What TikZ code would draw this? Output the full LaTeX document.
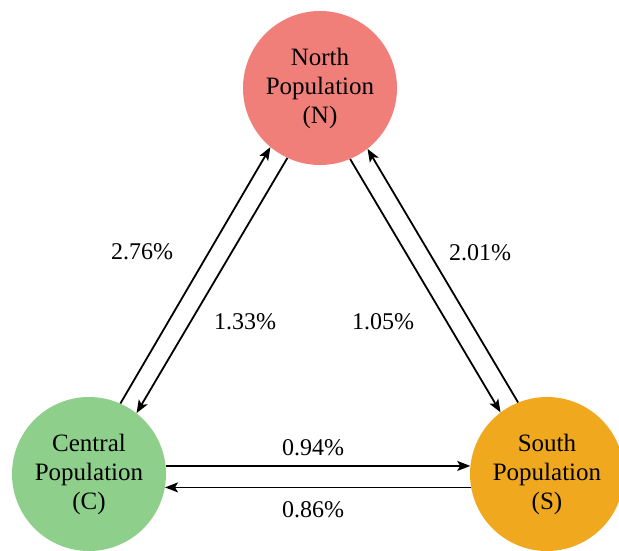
\documentclass[tikz,border=0pt]{standalone}
\usepackage{fontspec}
\setmainfont{Liberation Serif}
\newfontfamily\tnr{Liberation Serif}
\usetikzlibrary{arrows.meta}
\definecolor{northc}{HTML}{F17F79}
\definecolor{centralc}{HTML}{8ED08B}
\definecolor{southc}{HTML}{F0A91E}
\tikzset{
  pop/.style={circle, minimum size=154pt, inner sep=0pt, align=center,
    font=\tnr\fontsize{25}{29}\selectfont},
  flow/.style={line width=1.8pt, -{Stealth[length=13pt,width=10pt,inset=3pt]}},
  pct/.style={font=\tnr\fontsize{24}{28}\selectfont, inner sep=0pt}
}
\begin{document}
\begin{tikzpicture}[x=1pt,y=-1pt]
\useasboundingbox (0,0) rectangle (619,550);
\node[pop, fill=northc] (N) at (320,88) {North\\Population\\(N)};
\node[pop, fill=centralc] (C) at (89,474) {Central\\Population\\(C)};
\node[pop, fill=southc] (S) at (547,474) {South\\Population\\(S)};
% C <-> N
\draw[flow] (C.66) -- (N.230);
\draw[flow] (N.245) -- (C.52);
% N <-> S
\draw[flow] (N.293) -- (S.127);
\draw[flow] (S.112) -- (N.308);
% C <-> S
\draw[flow] (C.6) -- (S.174);
\draw[flow] (S.190.5) -- (C.-10.5);
\node[pct] (l1) at (142,252) {2.76\%};
\node[pct] (l2) at (245,322) {1.33\%};
\node[pct] (l3) at (480,253) {2.01\%};
\node[pct] (l4) at (383,322) {1.05\%};
\node[pct] (l5) at (313,448) {0.94\%};
\node[pct] (l6) at (313,510) {0.86\%};
\end{tikzpicture}
\end{document}
